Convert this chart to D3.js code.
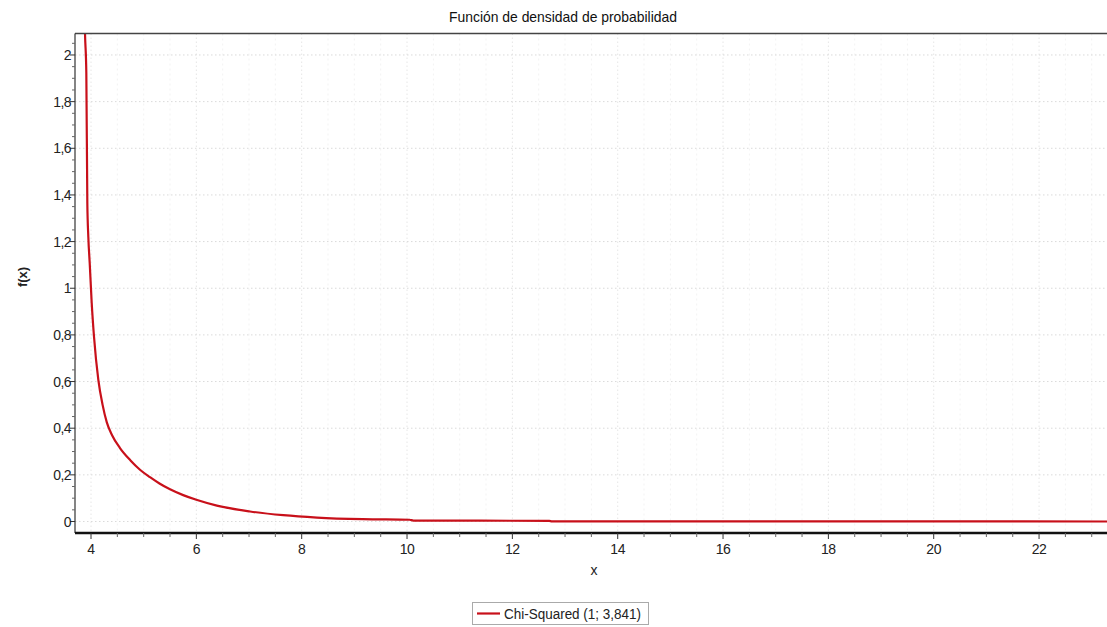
<!DOCTYPE html>
<html>
<head>
<meta charset="utf-8">
<script src="https://cdn.jsdelivr.net/npm/d3@7/dist/d3.min.js"></script>
<style>
  html, body { margin: 0; padding: 0; background: #fff; }
  svg { display: block; font-family: "Liberation Sans", Arial, sans-serif; }
</style>
</head>
<body>
<svg id="chart" width="1107" height="627"></svg>
<script>
// ---- data ----
const title = "Función de densidad de probabilidad";
const xLabel = "x";
const yLabel = "f(x)";
const seriesName = "Chi-Squared  (1; 3,841)";
const xTicks = [4, 6, 8, 10, 12, 14, 16, 18, 20, 22];
const yTicks = [0, 0.2, 0.4, 0.6, 0.8, 1, 1.2, 1.4, 1.6, 1.8, 2];
const curveX = [3.875, 3.886, 3.911, 3.930, 3.949, 3.975, 4.013, 4.057, 4.139, 4.22, 4.30, 4.40, 4.55, 4.75, 4.93, 5.12, 5.30, 5.50, 5.75, 6.00, 6.39, 7.02, 7.65, 8.29, 9.16, 10.05, 10.12, 12.70, 12.75, 16.0, 20.0, 23.3];
const curveY = [2.20, 2.092, 1.923, 1.366, 1.220, 1.109, 0.938, 0.792, 0.607, 0.500, 0.425, 0.370, 0.315, 0.262, 0.222, 0.190, 0.163, 0.138, 0.113, 0.093, 0.068, 0.043, 0.027, 0.017, 0.010, 0.0075, 0.0040, 0.0030, 0.0005, 0.0003, 0.0002, 0.0001];

// ---- layout ----
const svg = d3.select("#chart");
const L = 75, R = 1107, T = 33.5, B = 533;
const x = d3.scaleLinear().domain([3.696, 23.29]).range([L, R]);
const y = d3.scaleLinear().domain([-0.0493, 2.0921]).range([B, T]);

const fmt = d => String(d).replace(".", ",");

const xMinor = d3.range(3.5, 23.5, 0.5).filter(v => x(v) > L && x(v) < R && v % 2 !== 0);
const yMinor = d3.range(0, 2.1, 0.05).filter(v => Math.abs((v * 20) % 4) > 0.01 && y(v) > T);

const grid = svg.append("g");
grid.selectAll(".gxm").data(xMinor).enter().append("line")
  .attr("x1", d => x(d)).attr("x2", d => x(d)).attr("y1", T).attr("y2", B)
  .attr("stroke", "#f3f3f3").attr("stroke-dasharray", "2,3");
grid.selectAll(".gx").data(xTicks).enter().append("line")
  .attr("x1", d => x(d)).attr("x2", d => x(d)).attr("y1", T).attr("y2", B)
  .attr("stroke", "#e6e6e6").attr("stroke-dasharray", "1.5,2.5");
grid.selectAll(".gy").data(yTicks).enter().append("line")
  .attr("x1", L).attr("x2", R).attr("y1", d => y(d)).attr("y2", d => y(d))
  .attr("stroke", "#dadada").attr("stroke-dasharray", "1.5,2.5");

// curve
svg.append("clipPath").attr("id", "clip").append("rect")
  .attr("x", L).attr("y", T).attr("width", R - L).attr("height", B - T);
const pts = curveX.map((v, i) => [v, curveY[i]]);
const line = d3.line().x(d => x(d[0])).y(d => y(d[1])).curve(d3.curveMonotoneX);
svg.append("path").datum(pts)
  .attr("clip-path", "url(#clip)")
  .attr("d", line).attr("fill", "none")
  .attr("stroke", "#c8101a").attr("stroke-width", 2.2);

// frame
svg.append("line").attr("x1", L).attr("x2", R).attr("y1", T).attr("y2", T)
  .attr("stroke", "#444").attr("stroke-width", 1.4);
svg.append("line").attr("x1", L).attr("x2", L).attr("y1", T).attr("y2", B)
  .attr("stroke", "#333").attr("stroke-width", 1.2);
svg.append("line").attr("x1", L).attr("x2", R).attr("y1", B).attr("y2", B)
  .attr("stroke", "#111").attr("stroke-width", 2.5);

// x ticks
const xa = svg.append("g");
xa.selectAll(".xt").data(xTicks).enter().append("line")
  .attr("x1", d => x(d)).attr("x2", d => x(d)).attr("y1", B).attr("y2", B + 6)
  .attr("stroke", "#333").attr("stroke-width", 1);
xa.selectAll(".xmt").data(xMinor).enter().append("line")
  .attr("x1", d => x(d)).attr("x2", d => x(d)).attr("y1", B).attr("y2", B + 4)
  .attr("stroke", "#666").attr("stroke-width", 1);
xa.selectAll(".xl").data(xTicks).enter().append("text")
  .attr("x", d => x(d)).attr("y", 554).attr("text-anchor", "middle")
  .attr("font-size", 14).attr("fill", "#222").attr("letter-spacing", "-0.4")
  .text(d => fmt(d));

// y ticks
const ya = svg.append("g");
ya.selectAll(".yt").data(yTicks).enter().append("line")
  .attr("x1", L - 5).attr("x2", L).attr("y1", d => y(d)).attr("y2", d => y(d))
  .attr("stroke", "#333");
ya.selectAll(".ymt").data(yMinor).enter().append("line")
  .attr("x1", L - 3).attr("x2", L).attr("y1", d => y(d)).attr("y2", d => y(d))
  .attr("stroke", "#666");
ya.selectAll(".yl").data(yTicks).enter().append("text")
  .attr("x", 71).attr("y", d => y(d) + 5).attr("text-anchor", "end")
  .attr("font-size", 14).attr("fill", "#222").attr("letter-spacing", "-0.6")
  .text(d => fmt(d));

// title & labels
svg.append("text").attr("x", 449).attr("y", 22)
  .attr("font-size", 14.5).attr("fill", "#111")
  .attr("textLength", 228).attr("lengthAdjust", "spacingAndGlyphs")
  .text(title);
svg.append("text").attr("x", 594).attr("y", 575).attr("text-anchor", "middle")
  .attr("font-size", 14).attr("fill", "#222").text(xLabel);
svg.append("text").attr("transform", "translate(27,277) rotate(-90)")
  .attr("text-anchor", "middle").attr("font-size", 13).attr("font-weight", "bold")
  .attr("fill", "#222").text(yLabel);

// legend
const lg = svg.append("g");
lg.append("rect").attr("x", 472.5).attr("y", 602.5).attr("width", 176).attr("height", 22)
  .attr("fill", "#fff").attr("stroke", "#aaa");
lg.append("line").attr("x1", 477).attr("x2", 500).attr("y1", 613.5).attr("y2", 613.5)
  .attr("stroke", "#c8101a").attr("stroke-width", 2.2);
lg.append("text").attr("x", 504).attr("y", 618.5)
  .attr("font-size", 14).attr("fill", "#222")
  .attr("textLength", 137).attr("lengthAdjust", "spacingAndGlyphs")
  .text(seriesName);
</script>
</body>
</html>
